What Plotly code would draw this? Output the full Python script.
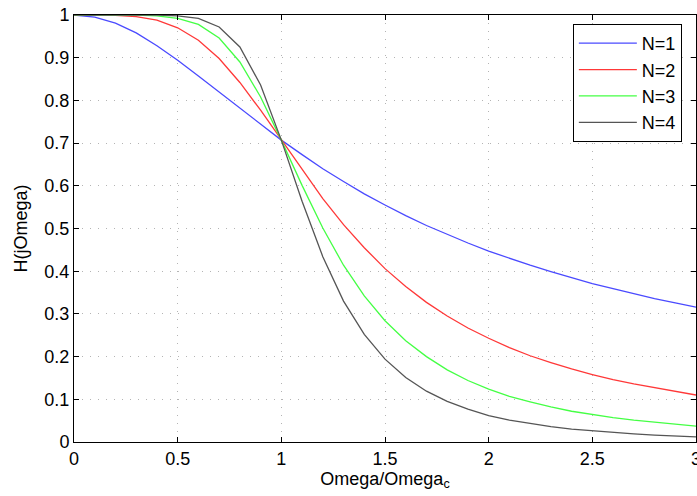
import plotly.graph_objects as go

omega = [0.0, 0.1, 0.2, 0.3, 0.4, 0.5, 0.6, 0.7, 0.8, 0.9, 1.0,
         1.1, 1.2, 1.3, 1.4, 1.5, 1.6, 1.7, 1.8, 1.9, 2.0,
         2.1, 2.2, 2.3, 2.4, 2.5, 2.6, 2.7, 2.8, 2.9, 3.0]

h_n1 = [1.000, 0.995, 0.981, 0.958, 0.928, 0.894, 0.857, 0.819, 0.781, 0.743, 0.707,
        0.673, 0.640, 0.610, 0.581, 0.555, 0.530, 0.507, 0.486, 0.466, 0.447,
        0.430, 0.414, 0.399, 0.385, 0.371, 0.359, 0.347, 0.336, 0.326, 0.316]
h_n2 = [1.000, 1.000, 0.999, 0.996, 0.988, 0.970, 0.941, 0.898, 0.842, 0.777, 0.707,
        0.637, 0.570, 0.509, 0.455, 0.406, 0.364, 0.327, 0.295, 0.267, 0.243,
        0.221, 0.202, 0.186, 0.171, 0.158, 0.146, 0.136, 0.127, 0.118, 0.110]
h_n3 = [1.000, 1.000, 1.000, 1.000, 0.998, 0.992, 0.978, 0.946, 0.890, 0.808, 0.707,
        0.601, 0.501, 0.414, 0.342, 0.284, 0.237, 0.200, 0.169, 0.144, 0.124,
        0.107, 0.094, 0.082, 0.072, 0.064, 0.057, 0.051, 0.046, 0.041, 0.037]
h_n4 = [1.000, 1.000, 1.000, 1.000, 1.000, 0.998, 0.992, 0.972, 0.925, 0.836, 0.707,
        0.564, 0.434, 0.330, 0.252, 0.194, 0.151, 0.119, 0.095, 0.077, 0.062,
        0.051, 0.043, 0.036, 0.030, 0.026, 0.022, 0.019, 0.016, 0.014, 0.012]

series = [("N=1", h_n1, "#4a4aff"), ("N=2", h_n2, "#ff3838"),
          ("N=3", h_n3, "#44ff44"), ("N=4", h_n4, "#555555")]

x_ticks = [0, 0.5, 1, 1.5, 2, 2.5, 3]
x_tick_text = ["0", "0.5", "1", "1.5", "2", "2.5", "3"]
y_ticks = [0, 0.1, 0.2, 0.3, 0.4, 0.5, 0.6, 0.7, 0.8, 0.9, 1]
y_tick_text = ["0", "0.1", "0.2", "0.3", "0.4", "0.5", "0.6", "0.7", "0.8", "0.9", "1"]

fig = go.Figure()
for name, vals, col in series:
    fig.add_trace(go.Scatter(x=omega, y=vals, mode="lines", name=name,
                             line=dict(color=col, width=1.3)))

font_family = "Liberation Sans, Arial, sans-serif"
axis_common = dict(
    showline=True, linecolor="black", linewidth=1, mirror="ticks",
    ticks="inside", ticklen=5, tickcolor="black", tickwidth=1,
    showgrid=True, gridcolor="#b4b4b4", griddash="1px,7px", gridwidth=1,
    zeroline=False, tickfont=dict(family=font_family, size=18, color="black"),
    ticklabeloverflow="allow", automargin=False,
)

fig.update_layout(
    width=697, height=496,
    margin=dict(l=74, r=1, t=15, b=54),
    paper_bgcolor="white", plot_bgcolor="white",
    font=dict(family=font_family, size=18, color="black"),
    xaxis=dict(range=[0, 3], tickvals=x_ticks, ticktext=x_tick_text,
               title=dict(text="Omega/Omega<sub>c</sub>", standoff=4,
                          font=dict(family=font_family, size=18)),
               **axis_common),
    yaxis=dict(range=[0, 1], tickvals=y_ticks, ticktext=y_tick_text,
               title=dict(text="H(jOmega)", standoff=12,
                          font=dict(family=font_family, size=18)),
               **axis_common),
    legend=dict(x=0.802, y=0.979, xanchor="left", yanchor="top",
                bgcolor="white", bordercolor="black", borderwidth=1,
                font=dict(family=font_family, size=18, color="black"),
                itemwidth=58, tracegroupgap=0),
    showlegend=True,
)

fig.write_html("out.html")
